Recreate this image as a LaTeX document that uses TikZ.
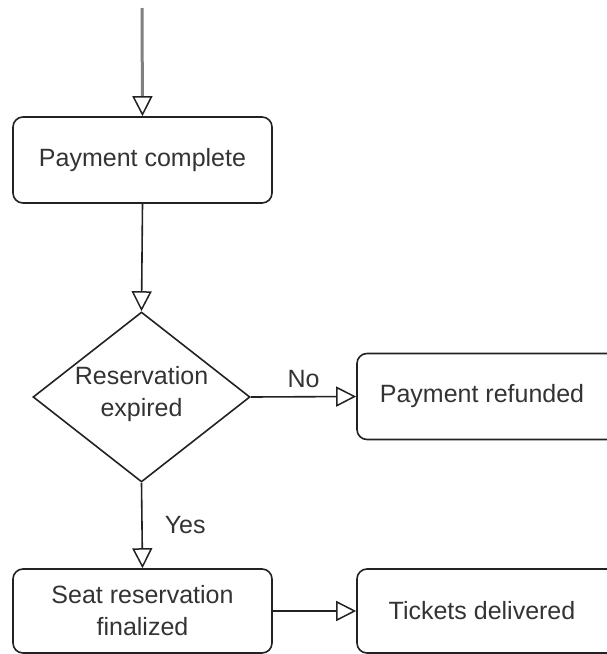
\documentclass[tikz,border=0pt]{standalone}
\usepackage{fontspec}
\setmainfont{Liberation Sans}
\usetikzlibrary{arrows.meta,shapes.geometric}
\definecolor{ink}{HTML}{222222}
\definecolor{txt}{HTML}{333333}
\begin{document}
\begin{tikzpicture}[x=1pt,y=-1pt,
  font=\fontsize{25}{32}\selectfont,
  box/.style={draw=ink, line width=1.6pt, rounded corners=10pt,
    inner sep=0pt, align=center, text=txt},
  leftbox/.style={box, minimum width=259pt, minimum height=86pt},
  rightbox/.style={box, minimum width=300pt, minimum height=86pt},
  lowbox/.style={minimum height=84pt},
  decision/.style={draw=ink, line width=1.6pt, shape=diamond,
    minimum width=217pt, minimum height=170pt, inner sep=0pt},
  plain/.style={align=center, text=txt, inner sep=0pt},
  flow/.style={draw=ink, line width=1.6pt,
    -{Triangle[open, length=20pt, width=20pt, line width=1.5pt]}},
  entry/.style={draw=gray, line width=3pt,
    -{Triangle[open, length=20pt, width=20pt, line width=1.5pt, color=ink]}},
]
\useasboundingbox (0,0) rectangle (606,654);

% process steps
\node[leftbox] (pay) at (142.5,160) {Payment complete};
\node[decision] (dec) at (141.5,397) {};
\node[plain] (dectext) at (141.5,394) {Reservation\\expired};
\node[rightbox] (ref) at (507,396.5) {};
\node[plain] (reftext) at (482,396.5) {Payment refunded};
\node[leftbox, lowbox] (seat) at (142.5,611) {Seat reservation\\finalized};
\node[rightbox, lowbox] (tick) at (507,611) {};
\node[plain] (ticktext) at (482,611) {Tickets delivered};

% incoming connector
\coordinate (start) at (142,8);
\draw[entry] (start) -- (pay.north);

% connectors
\draw[flow] (pay.south) -- (dec.north);
\draw[flow] (dec.east) -- (ref.west) node[plain, pos=0.5, above=8pt] {No};
\draw[flow] (dec.south) -- (seat.north) node[plain, pos=0.5, right=22pt] {Yes};
\draw[flow] (seat.east) -- (tick.west);
\end{tikzpicture}
\end{document}
